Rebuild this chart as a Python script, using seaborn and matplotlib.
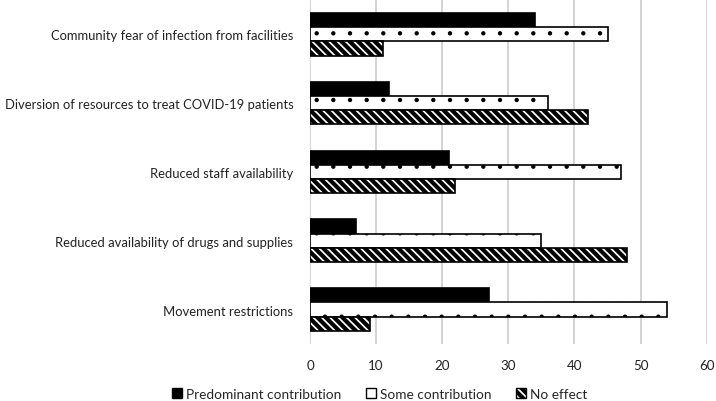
import pandas as pd
import seaborn as sns
import matplotlib.pyplot as plt
from matplotlib.patches import Patch

categories = [
    "Community fear of infection from facilities",
    "Diversion of resources to treat COVID-19 patients",
    "Reduced staff availability",
    "Reduced availability of drugs and supplies",
    "Movement restrictions",
]
series = ["Predominant contribution", "Some contribution", "No effect"]
predominant = [34, 12, 21, 7, 27]
some = [45, 36, 47, 35, 54]
no_effect = [11, 42, 22, 48, 9]

df = pd.DataFrame({
    "factor": categories * 3,
    "kind": [series[0]] * 5 + [series[1]] * 5 + [series[2]] * 5,
    "count": predominant + some + no_effect,
})

sns.set_style("white")
plt.rcParams["font.family"] = ["Lato", "DejaVu Sans"]
plt.rcParams["hatch.linewidth"] = 3.0

fig = plt.figure(figsize=(7.16, 4.02), dpi=100)
ax = fig.add_axes([0.433, 0.142, 0.554, 0.856])

sns.barplot(data=df, y="factor", x="count", hue="kind", orient="h",
            order=categories, hue_order=series, width=0.62,
            palette=["black", "white", "white"], ax=ax, legend=False,
            edgecolor="black", linewidth=1.2)

# fill styles per series: solid, dotted, diagonal stripes
styles = [("black", ""), ("white", "."), ("white", "\\\\\\\\")]
hatch_lw = [1.0, 0.7, 3.0]
for cont, (fc, h), hl in zip(ax.containers, styles, hatch_lw):
    for bar in cont:
        bar.set_facecolor(fc)
        bar.set_hatch(h)
        bar.set_edgecolor("black")
        if hasattr(bar, "set_hatch_linewidth"):
            bar.set_hatch_linewidth(hl)

ax.set_xlim(0, 60)
ax.set_xticks(range(0, 61, 10))
ax.xaxis.grid(True, color="#d0d0d0", linewidth=1.3)
ax.set_axisbelow(True)
ax.set_xlabel("")
ax.set_ylabel("")
for s in ax.spines.values():
    s.set_visible(False)
ax.tick_params(axis="both", length=0, labelsize=9.6, colors="#222222")
ax.tick_params(axis="y", pad=12, labelsize=9.4)
ax.tick_params(axis="x", pad=11)

handles = [
    Patch(facecolor="black", edgecolor="black", label=series[0]),
    Patch(facecolor="white", edgecolor="black", label=series[1]),
    Patch(facecolor="white", edgecolor="black", hatch="\\\\\\\\", label=series[2]),
]
fig.legend(handles=handles, loc="lower center", bbox_to_anchor=(0.53, -0.028),
           ncol=3, frameon=False, fontsize=9.8, handlelength=0.75,
           handleheight=0.75, handletextpad=0.3, columnspacing=1.8)

fig.savefig("out.png", dpi=100)
